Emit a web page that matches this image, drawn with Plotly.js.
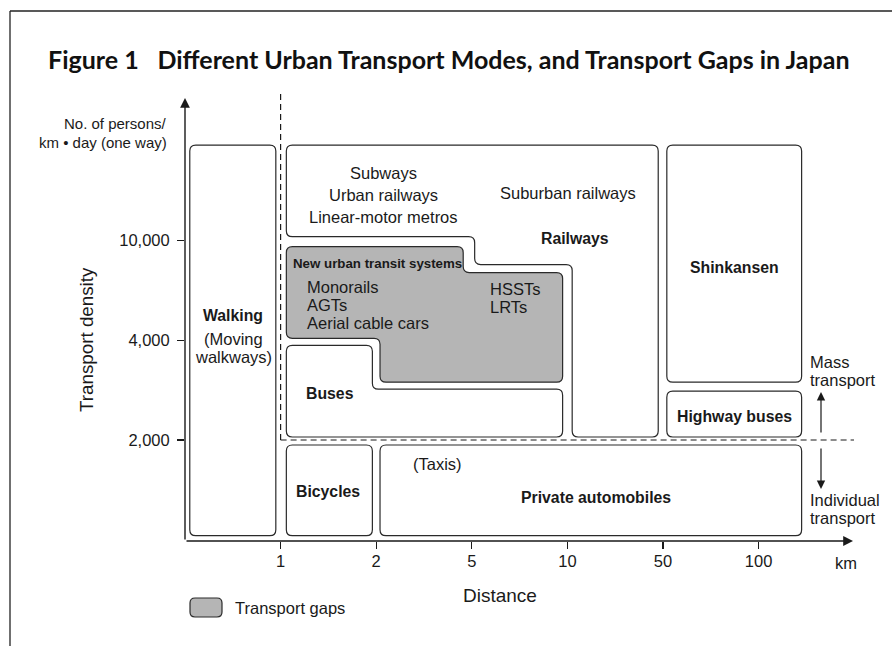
<!DOCTYPE html>
<html><head><meta charset="utf-8">
<script src="https://cdn.plot.ly/plotly-3.0.1.min.js"></script>
<style>html,body{margin:0;padding:0;background:#fff;}</style>
</head><body><div id="chart" style="width:892px;height:646px;"></div>
<script>
// ---------- data (distance index on x: 1=1km,2=2km,3=5km,4=10km,5=50km,6=100km; density level on y: 1=2,000, 2=4,000, 3=10,000)
const distanceTickPos = [1, 2, 3, 4, 5, 6];
const distanceTickText = ['1', '2', '5', '10', '50', '100'];
const densityTickPos = [1, 2, 3];
const densityTickText = ['2,000', '4,000', '10,000'];

const walkingBox = [[0.05,0.04],[0.95,0.04],[0.95,3.96],[0.05,3.96]];
const railwaysBox = [[1.06,3.96],[4.95,3.96],[4.95,1.03],[4.05,1.03],[4.05,2.76],[3.03,2.76],[3.03,3.04],[1.06,3.04]];
const gapBox = [[1.06,2.94],[2.91,2.94],[2.91,2.68],[3.95,2.68],[3.95,1.58],[2.04,1.58],[2.04,2.02],[1.06,2.02]];
const busesBox = [[1.06,1.95],[1.96,1.95],[1.96,1.51],[3.95,1.51],[3.95,1.03],[1.06,1.03]];
const bicyclesBox = [[1.06,0.04],[1.96,0.04],[1.96,0.95],[1.06,0.95]];
const automobilesBox = [[2.04,0.04],[6.45,0.04],[6.45,0.95],[2.04,0.95]];
const shinkansenBox = [[5.04,1.58],[6.45,1.58],[6.45,3.96],[5.04,3.96]];
const highwayBusesBox = [[5.04,1.03],[6.45,1.03],[6.45,1.49],[5.04,1.49]];
const massIndividualBoundary = 1;   // 2,000 persons/km·day
const walkingLimit = 1;             // 1 km

// ---------- layout helpers
const FN = "'Liberation Sans', Arial, Helvetica, sans-serif";
const INK = '#1a1a1a';
const M = {l:185, r:32, t:85, b:105};
const plotW = 892 - M.l - M.r, plotH = 646 - M.t - M.b;
const UX = 95.6, UY = 99.65;
const yBottom = -(541 - 539.65) / UY;
const xRange = [0, plotW / UX];
const yRange = [yBottom, yBottom + plotH / UY];
const u = px => (px - M.l) / UX;           // pixel -> distance index
const v = py => (539.65 - py) / UY;         // pixel -> density level
const pX = px => (px - M.l) / plotW;        // pixel -> paper
const pY = py => (646 - M.b - py) / plotH;

function roundedPath(pts, rx, ry) {
  const n = pts.length;
  const toward = (p, q) => {
    const dx = q[0] - p[0], dy = q[1] - p[1];
    if (Math.abs(dx) > Math.abs(dy)) return [p[0] + Math.sign(dx) * Math.min(rx, Math.abs(dx) / 2), p[1]];
    return [p[0], p[1] + Math.sign(dy) * Math.min(ry, Math.abs(dy) / 2)];
  };
  let d = '';
  for (let i = 0; i < n; i++) {
    const p = pts[i], prev = pts[(i - 1 + n) % n], next = pts[(i + 1) % n];
    const a = toward(p, prev), b = toward(p, next);
    d += (i === 0 ? 'M' : 'L') + a[0] + ',' + a[1] + ' Q' + p[0] + ',' + p[1] + ' ' + b[0] + ',' + b[1] + ' ';
  }
  return d + 'Z';
}
const R = 6;
function boxShape(pts, fill) {
  return {type:'path', xref:'x', yref:'y', path: roundedPath(pts, R / UX, R / UY),
    fillcolor: fill || 'rgba(255,255,255,0)', line:{color:'#2a2a2a', width:1.2}, layer:'above'};
}

const shapes = [
  // frame
  {type:'line', xref:'paper', yref:'paper', x0:pX(10), x1:pX(900), y0:pY(11), y1:pY(11), line:{color:'#222', width:1.3}},
  {type:'line', xref:'paper', yref:'paper', x0:pX(10), x1:pX(10), y0:pY(11), y1:pY(660), line:{color:'#222', width:1.3}},
  // dashed boundaries
  {type:'line', xref:'x', yref:'y', x0:walkingLimit, x1:walkingLimit, y0:massIndividualBoundary, y1:v(90), line:{color:INK, width:1.2, dash:'6px,4px'}},
  {type:'line', xref:'x', yref:'y', x0:walkingLimit, x1:u(854), y0:massIndividualBoundary, y1:massIndividualBoundary, line:{color:INK, width:1.2, dash:'6px,4px'}},
  boxShape(walkingBox), boxShape(railwaysBox), boxShape(gapBox, '#b5b5b5'), boxShape(busesBox),
  boxShape(bicyclesBox), boxShape(automobilesBox), boxShape(shinkansenBox), boxShape(highwayBusesBox),
  // legend swatch
  {type:'path', xref:'paper', yref:'paper', fillcolor:'#b5b5b5', line:{color:'#2a2a2a', width:1.2},
   path: roundedPath([[pX(190),pY(598)],[pX(222),pY(598)],[pX(222),pY(617)],[pX(190),pY(617)]], 5/plotW, 5/plotH)}
];

const F = (size) => ({family:FN, size:size, color:INK});
const T = (text, x, y, o) => Object.assign({text, x, y, xref:'x', yref:'y', showarrow:false,
  xanchor:'center', yanchor:'middle', font:F(16.5)}, o || {});
const P = (text, px, py, o) => Object.assign({text, x:pX(px), y:pY(py), xref:'paper', yref:'paper', showarrow:false,
  xanchor:'center', yanchor:'middle', font:F(16.5)}, o || {});
const bold = s => '<b>' + s + '</b>';
const B = F(15.8);

const annotations = [
  // box labels
  T(bold('Walking'), u(233), v(315), {font:B}),
  T('(Moving', u(233), v(339)),
  T('walkways)', u(233), v(357)),
  T('Subways', u(383), v(173)),
  T('Urban railways', u(383), v(195)),
  T('Linear-motor metros', u(383), v(217)),
  T('Suburban railways', u(568), v(193)),
  T(bold('Railways'), u(575), v(238), {font:B}),
  T(bold('Shinkansen'), u(734), v(267), {font:B}),
  T(bold('New urban transit systems'), u(291), v(263), {xanchor:'left', font:F(13.3)}),
  T('Monorails', u(305), v(287), {xanchor:'left'}),
  T('AGTs', u(305), v(305), {xanchor:'left'}),
  T('Aerial cable cars', u(305), v(323), {xanchor:'left'}),
  T('HSSTs', u(488), v(289), {xanchor:'left'}),
  T('LRTs', u(488), v(307), {xanchor:'left'}),
  T(bold('Buses'), u(330), v(393), {font:B}),
  T(bold('Bicycles'), u(328), v(491), {font:B}),
  T('(Taxis)', u(437), v(464)),
  T(bold('Private automobiles'), u(596), v(497), {font:B}),
  T(bold('Highway buses'), u(734), v(416), {font:B}),
  T('Mass', u(808), v(362), {xanchor:'left'}),
  T('transport', u(808), v(380), {xanchor:'left'}),
  T('Individual', u(808), v(500), {xanchor:'left'}),
  T('transport', u(808), v(518), {xanchor:'left'}),
  // mass / individual arrows
  {x:u(821), y:v(392), ax:u(821), ay:v(434), xref:'x', yref:'y', axref:'x', ayref:'y', text:'', showarrow:true,
   arrowhead:2, arrowsize:1.4, arrowwidth:1.2, arrowcolor:INK},
  {x:u(821), y:v(489), ax:u(821), ay:v(447), xref:'x', yref:'y', axref:'x', ayref:'y', text:'', showarrow:true,
   arrowhead:2, arrowsize:1.4, arrowwidth:1.2, arrowcolor:INK},
  // axes with arrows
  {x:0, y:v(98), ax:0, ay:yBottom, xref:'x', yref:'y', axref:'x', ayref:'y', text:'', showarrow:true,
   arrowhead:2, arrowsize:1.4, arrowwidth:1.4, arrowcolor:INK},
  {x:u(853), y:yBottom, ax:0, ay:yBottom, xref:'x', yref:'y', axref:'x', ayref:'y', text:'', showarrow:true,
   arrowhead:2, arrowsize:1.4, arrowwidth:1.4, arrowcolor:INK},
  // axis texts
  P('No. of persons/', 169, 123, {xanchor:'right', font:F(15)}),
  P('km \u2022 day (one way)', 169, 142, {xanchor:'right', font:F(15)}),
  P('Transport density', 86, 340, {textangle:-90, font:F(18.8)}),
  P('Distance', 500, 595, {font:F(19)}),
  P('km', 846, 563),
  P('Transport gaps', 233, 608, {xanchor:'left'})
];

const layout = {
  width:892, height:646, margin:{l:M.l, r:M.r, t:M.t, b:M.b, pad:0},
  paper_bgcolor:'#fff', plot_bgcolor:'rgba(0,0,0,0)', showlegend:false,
  title:{text:'<b>Figure 1\u2003Different Urban Transport Modes, and Transport Gaps in Japan</b>',
    x:48/892, xanchor:'left', xref:'container', y:1 - 60/646, yanchor:'middle', yref:'container',
    font:{family:'Lato, "Open Sans", sans-serif', size:25, color:'#111'}},
  xaxis:{range:xRange, showgrid:false, zeroline:false, showline:false, tickmode:'array',
    tickvals:distanceTickPos, ticktext:distanceTickText, ticks:'outside', ticklen:7, tickwidth:1.3, tickcolor:INK,
    ticklabelstandoff:-2, tickfont:F(16.5), fixedrange:true},
  yaxis:{range:yRange, showgrid:false, zeroline:false, showline:false, tickmode:'array',
    tickvals:densityTickPos, ticktext:densityTickText, ticks:'outside', ticklen:7, tickwidth:1.3, tickcolor:INK,
    ticklabelstandoff:4, tickfont:F(16.5), fixedrange:true},
  shapes, annotations
};

Plotly.newPlot('chart', [{x:[], y:[], type:'scatter', hoverinfo:'skip'}], layout, {displayModeBar:false, staticPlot:true});
</script>
</body></html>
